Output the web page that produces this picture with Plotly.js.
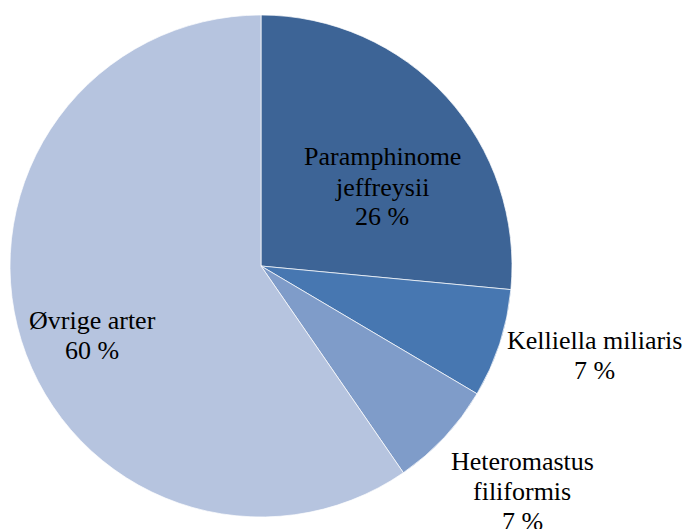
<!DOCTYPE html>
<html>
<head>
<meta charset="utf-8">
<script src="https://cdn.plot.ly/plotly-3.0.1.min.js"></script>
<style>html,body{margin:0;padding:0;background:#fff;}#chart{width:685px;height:529px;}</style>
</head>
<body>
<div id="chart"></div>
<script>
// Data
const categories = ["Paramphinome jeffreysii", "Kelliella miliaris", "Heteromastus filiformis", "Øvrige arter"];
const values = [26.5, 7.0, 6.9, 59.6];
const percentLabels = ["26 %", "7 %", "7 %", "60 %"];
const nameLines = [["Paramphinome", "jeffreysii"], ["Kelliella miliaris"], ["Heteromastus", "filiformis"], ["Øvrige arter"]];
const colors = ["#3D6496", "#4777B1", "#7F9CC9", "#B6C4DF"];

// Label block centers (pixels) and layout constants
const W = 685, H = 529;
const labelCenters = [[382, 187], [594, 355], [522, 491], [92, 335]];
const lineGap = 30;
const fontSize = 26;

const annotations = [];
categories.forEach((c, i) => {
  const lines = nameLines[i].concat([percentLabels[i]]);
  const [cx, cy] = labelCenters[i];
  const n = lines.length;
  lines.forEach((t, j) => {
    const y = cy + (j - (n - 1) / 2) * lineGap;
    annotations.push({
      xref: "paper", yref: "paper",
      x: cx / W, y: 1 - y / H,
      xanchor: "center", yanchor: "middle",
      text: t, showarrow: false,
      font: {family: "Liberation Serif", size: fontSize, color: "#000"}
    });
  });
});

const cx = 261, cyTop = 266, r = 251;
const trace = {
  type: "pie",
  labels: categories,
  values: values,
  sort: false,
  direction: "clockwise",
  rotation: 0,
  textinfo: "none",
  hoverinfo: "label+percent",
  marker: {colors: colors, line: {color: "rgba(255,255,255,0.7)", width: 1}},
  domain: {x: [(cx - r) / W, (cx + r) / W], y: [(H - cyTop - r) / H, (H - cyTop + r) / H]},
  showlegend: false
};

Plotly.newPlot("chart", [trace], {
  width: W, height: H,
  margin: {l: 0, r: 0, t: 0, b: 0},
  paper_bgcolor: "#fff",
  font: {family: "Liberation Serif"},
  showlegend: false,
  annotations: annotations
}, {displayModeBar: false, staticPlot: true});
</script>
</body>
</html>
